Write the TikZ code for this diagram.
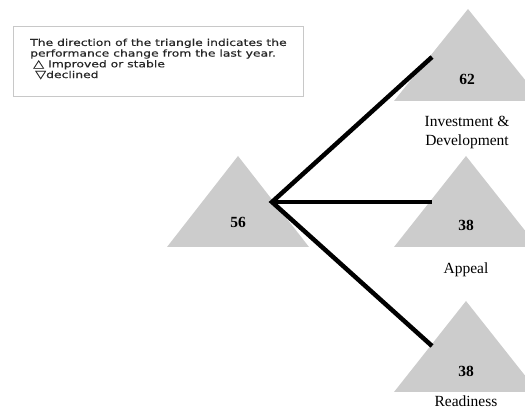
\documentclass[tikz,border=0pt]{standalone}
\usepackage{fontspec}
\usetikzlibrary{positioning}
\setmainfont{Liberation Serif}
\newfontfamily\legendfont[FakeStretch=1.3,FakeBold=0.5]{DejaVu Sans}
\definecolor{trigray}{RGB}{204,204,204}
\definecolor{boxgray}{RGB}{200,200,200}
\tikzset{
  tri/.style={fill=trigray},
  score/.style={font=\fontsize{15.5}{18}\selectfont\bfseries},
  caption/.style={font=\fontsize{15.5}{19}\selectfont, align=center},
  link/.style={line width=4.5pt, line join=miter},
}
\begin{document}
\begin{tikzpicture}[x=1pt,y=-1pt]
        \useasboundingbox (0,0) rectangle (525,411);
        %% legend
        \draw[boxgray, line width=1pt] (13,27) rectangle (303,97);
        \node[anchor=north west, inner sep=0pt, align=left, text=black!85, font=\legendfont\fontsize{9.5}{10.7}\selectfont] (legend) at (30,38.5)
          {The direction of the triangle indicates the\\performance change from the last year.\\\hspace{3pt}{\fontsize{11}{10.7}\selectfont △} Improved or stable\\\hspace{5pt}{\fontsize{11}{10.7}\selectfont ▽}declined};
        %% triangles
        \fill[tri] (238,156) -- (167,247) -- (309,247) -- cycle;
        \fill[tri] (468,9) -- (394,101) -- (542,101) -- cycle;
        \fill[tri] (466,156) -- (394,247) -- (538,247) -- cycle;
        \fill[tri] (466,301) -- (394,392) -- (538,392) -- cycle;
        %% scores
        \node[score] (hub) at (238,222) {56};
        \node[score] (invest) at (467,79) {62};
        \node[score] (appeal) at (466,225) {38};
        \node[score] (ready) at (466,371) {38};
        %% captions
        \node[caption] (investcap) at (467,132) {Investment \&\\Development};
        \node[caption] (appealcap) at (466,270) {Appeal};
        \node[caption, anchor=base, inner sep=0pt] (readycap) at (466,406.5) {Readiness};
        %% links
        \coordinate (fork) at (272,202);
        \coordinate (investend) at (432,57);
        \coordinate (appealend) at (432,202);
        \coordinate (readyend) at (432,346);
        \draw[link] (investend) -- (fork) -- (readyend);
        \draw[link] (fork) -- (appealend);
\end{tikzpicture}
\end{document}
